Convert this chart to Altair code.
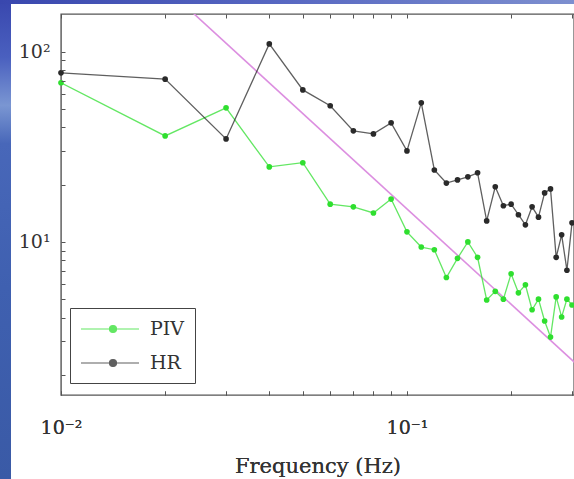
import altair as alt
import pandas as pd

# ---- data ----
freq = [0.01, 0.02, 0.03, 0.04, 0.05, 0.06, 0.07, 0.08, 0.09, 0.10,
        0.11, 0.12, 0.13, 0.14, 0.15, 0.16, 0.17, 0.18, 0.19, 0.20,
        0.21, 0.22, 0.23, 0.24, 0.25, 0.26, 0.27, 0.28, 0.29, 0.30]
piv = [68.7, 36.1, 50.7, 24.8, 26.1, 15.8, 15.3, 14.2, 16.8, 11.3,
       9.4, 9.1, 6.5, 8.2, 10.0, 8.3, 4.95, 5.5, 5.0, 6.8,
       5.4, 5.95, 4.4, 5.0, 3.84, 3.16, 5.14, 4.03, 5.0, 4.66]
hr = [77.5, 71.8, 34.8, 110.0, 63.0, 52.0, 38.4, 37.0, 42.3, 30.1,
      53.9, 23.9, 20.4, 21.2, 22.0, 23.1, 12.9, 19.5, 15.5, 15.8,
      13.9, 12.3, 15.3, 13.5, 18.1, 19.0, 8.3, 10.9, 7.1, 12.6]
ref_freq = [0.02, 0.35]
ref_val = [218.0, 1.85]
series_names = ["PIV", "HR"]
series_colors = ["#2fdf2f", "#2a2a2a"]
x_ticks = [0.01, 0.02, 0.03, 0.04, 0.05, 0.06, 0.07, 0.08, 0.09, 0.1, 0.2, 0.3]
y_ticks = [2, 3, 4, 5, 6, 7, 8, 9, 10, 20, 30, 40, 50, 60, 70, 80, 90, 100]

W, H = 513, 381
FONT = "DejaVu Serif"

df = pd.DataFrame({
    "freq": freq * 2,
    "val": piv + hr,
    "series": ["PIV"] * len(freq) + ["HR"] * len(freq),
})
ref_df = pd.DataFrame({"freq": ref_freq, "val": ref_val})

xscale = alt.Scale(type="log", domain=[0.01, 0.304], nice=False)
yscale = alt.Scale(type="log", domain=[1.567, 158.0], nice=False)

y_enc = alt.Y("val:Q", scale=yscale, title=None,
              axis=alt.Axis(values=y_ticks, domain=False, tickSize=4, offset=-4,
                            tickColor="#555", tickWidth=1,
                            labelExpr="datum.value == 100 ? '10²' : (datum.value == 10 ? '10¹' : '')",
                            labelFont=FONT, labelFontSize=19, labelColor="#333",
                            labelPadding=11, grid=False, zindex=1))

x_bottom = alt.X("freq:Q", scale=xscale,
                 axis=alt.Axis(values=x_ticks, domain=False, tickSize=4, offset=-4,
                               tickColor="#555", tickWidth=1,
                               labelExpr="datum.value == 0.01 ? '10⁻²' : (datum.value == 0.1 ? '10⁻¹' : '')",
                               labelFont=FONT, labelFontSize=19, labelColor="#333",
                               labelBaseline="alphabetic", labelPadding=38, labelFlush=False,
                               title="Frequency (Hz)", titleFont=FONT, titleFontSize=21,
                               titleFontWeight="normal", titleColor="#333",
                               titleBaseline="alphabetic", titleY=81,
                               grid=False, zindex=1))
x_top = alt.X("freq:Q", scale=xscale,
              axis=alt.Axis(orient="top", values=x_ticks, domain=False, tickSize=4,
                            offset=-4, tickColor="#555", tickWidth=1, labels=False,
                            title=None, grid=False, zindex=1))

color_scale = alt.Scale(domain=series_names, range=series_colors)
legend = alt.Legend(
    title=None, orient="none", legendX=9, legendY=294, direction="vertical",
    padding=10, strokeColor="#444", fillColor="white",
    labelFont=FONT, labelFontSize=19, labelColor="#333", labelOffset=10,
    symbolType="M-4.8,0L1,0M-1.25,0A0.35,0.35,0,1,1,-1.95,0A0.35,0.35,0,1,1,-1.25,0Z",
    symbolSize=400, symbolOffset=38, symbolStrokeWidth=1.2, rowPadding=13,
)

one = pd.DataFrame({"k": [0]})
left_strip = alt.Chart(one).mark_rect(
    color={"gradient": "linear", "x1": 0, "x2": 0, "y1": 0, "y2": 1,
           "stops": [{"offset": 0, "color": "#3947ae"},
                     {"offset": 0.12, "color": "#4a60bf"},
                     {"offset": 0.22, "color": "#7a96d2"},
                     {"offset": 0.3, "color": "#4867b9"},
                     {"offset": 0.6, "color": "#3f60b0"},
                     {"offset": 1, "color": "#3a5aa6"}]}
).encode(x=alt.value(-61), x2=alt.value(-50), y=alt.value(-14), y2=alt.value(H + 84))
top_strip = alt.Chart(one).mark_rect(
    color={"gradient": "linear", "x1": 0, "x2": 1, "y1": 0, "y2": 0,
           "stops": [{"offset": 0, "color": "#3947ae"},
                     {"offset": 0.5, "color": "#5868c2"},
                     {"offset": 1, "color": "#7d8fcf"}]}
).encode(x=alt.value(-61), x2=alt.value(W), y=alt.value(-14), y2=alt.value(-10))

ref_line = alt.Chart(ref_df).mark_line(color="#dc8fe0", strokeWidth=1.6, clip=True).encode(
    x=x_top, y=y_enc)

lines = alt.Chart(df).mark_line(strokeWidth=1.3, opacity=0.75, clip=True).encode(
    x=x_bottom, y=y_enc,
    color=alt.Color("series:N", scale=color_scale, legend=legend),
    detail="series:N")
points = alt.Chart(df).mark_point(filled=True, shape="circle", size=32, opacity=1).encode(
    x=x_bottom, y=y_enc,
    color=alt.Color("series:N", scale=color_scale, legend=legend))

chart = alt.layer(left_strip, top_strip, ref_line, lines, points).resolve_axis(
    x="independent"
).properties(
    width=W, height=H,
    autosize=alt.AutoSizeParams(type="none"),
    padding={"left": 61, "top": 14, "right": 0, "bottom": 84},
    background="white",
).configure_view(stroke="#555", strokeWidth=1.4)

chart.save("out.html", embed_options={"renderer": "svg", "actions": False})
